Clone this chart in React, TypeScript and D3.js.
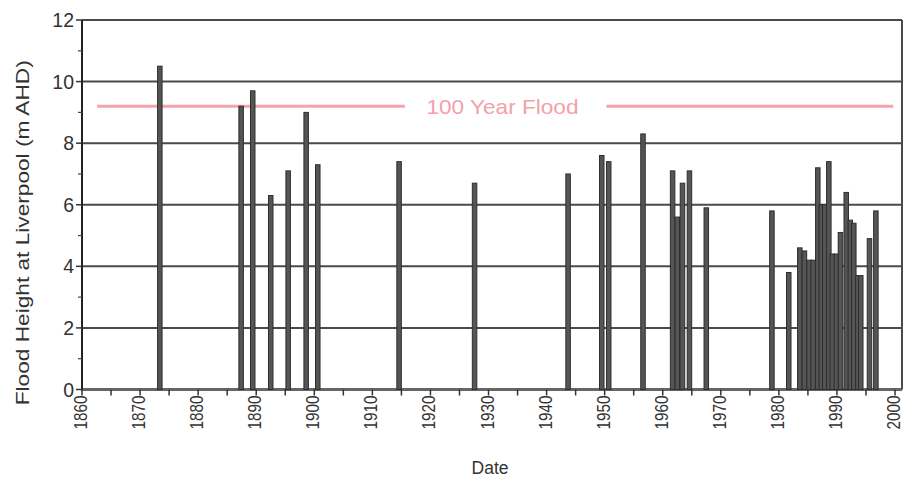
import React from 'react';
import * as d3 from 'd3';

// Flood events: decimal year and peak height (m AHD)
const floodYears = [
  1873.4, 1887.4, 1889.4, 1892.5, 1895.5, 1898.6, 1900.6, 1914.6, 1927.6, 1943.7,
  1949.5, 1950.7, 1956.6, 1961.7, 1962.5, 1963.4, 1964.6, 1967.5, 1978.8, 1981.7,
  1983.6, 1984.4, 1985.2, 1985.9, 1986.7, 1987.3, 1987.9, 1988.6, 1989.2, 1989.9,
  1990.6, 1991.6, 1992.3, 1992.9, 1993.6, 1994.1, 1995.6, 1996.7,
];
const floodHeights = [
  10.5, 9.2, 9.7, 6.3, 7.1, 9.0, 7.3, 7.4, 6.7, 7.0,
  7.6, 7.4, 8.3, 7.1, 5.6, 6.7, 7.1, 5.9, 5.8, 3.8,
  4.6, 4.5, 4.2, 4.2, 7.2, 6.0, 6.0, 7.4, 4.4, 4.4,
  5.1, 6.4, 5.5, 5.4, 3.7, 3.7, 4.9, 5.8,
];

const hundredYearFlood = 9.2;
const floodLineSegments = [[1862.6, 1915.6], [1950.3, 1999.7]];
const floodLabel = '100 Year Flood';

const yTicks = [0, 2, 4, 6, 8, 10, 12];
const yMinorTicks = [1, 3, 5, 7, 9, 11];
const xTicks = d3.range(1860, 2001, 5);
const xLabels = d3.range(1860, 2001, 10);

const W = 904;
const H = 479;
const font = '"Liberation Sans", Arial, sans-serif';

export default function App() {
  const x = d3.scaleLinear().domain([1860, 2001.2]).range([82, 902]);
  const y = d3.scaleLinear().domain([0, 12]).range([389.5, 20]);
  const barW = 4.5;
  const grid = '#4a4a4a';

  return (
    <svg width={W} height={H} style={{ position: 'absolute', left: 0, top: 0, display: 'block', background: '#fff' }}>
      {/* horizontal gridlines */}
      {yTicks.map(t => (
        <line key={'g' + t} x1={x(1860)} x2={x(2001.2)} y1={y(t)} y2={y(t)}
          stroke={t === 0 ? '#666' : grid} strokeWidth={t === 0 ? 3 : 2} />
      ))}
      {/* right frame */}
      <line x1={x(2001.2)} x2={x(2001.2)} y1={y(12)} y2={y(0)} stroke={grid} strokeWidth={2} />

      {/* 100 year flood line */}
      {floodLineSegments.map((s, i) => (
        <line key={'f' + i} x1={x(s[0])} x2={x(s[1])} y1={y(hundredYearFlood)} y2={y(hundredYearFlood)}
          stroke="#f4a4ac" strokeWidth={3} />
      ))}
      <text x={x(1932.4)} y={y(hundredYearFlood) + 8} textAnchor="middle" fontFamily={font}
        fontSize={21} fill="#f3a0aa" textLength={152} lengthAdjust="spacingAndGlyphs">{floodLabel}</text>

      {/* bars */}
      {floodYears.map((yr, i) => (
        <rect key={'b' + i} x={x(yr) - barW / 2} y={y(floodHeights[i])} width={barW}
          height={y(0) - y(floodHeights[i])} fill="#555" stroke="#2e2e2e" strokeWidth={1} />
      ))}

      {/* y axis */}
      <line x1={x(1860)} x2={x(1860)} y1={y(12)} y2={y(0) + 1} stroke="#222" strokeWidth={2} />
      {yTicks.map(t => (
        <g key={'y' + t}>
          <line x1={x(1860) - 6} x2={x(1860)} y1={y(t)} y2={y(t)} stroke="#333" strokeWidth={1.5} />
          <text x={x(1860) - 8} y={y(t) + 7} textAnchor="end" fontFamily={font} fontSize={19.5} fill="#333">{t}</text>
        </g>
      ))}
      {yMinorTicks.map(t => (
        <line key={'ym' + t} x1={x(1860) - 4} x2={x(1860)} y1={y(t)} y2={y(t)} stroke="#444" strokeWidth={1.2} />
      ))}

      {/* x axis */}
      {xTicks.map(t => (
        <line key={'x' + t} x1={x(t)} x2={x(t)} y1={y(0)} y2={y(0) + 6} stroke="#333" strokeWidth={1.5} />
      ))}
      {xLabels.map(t => (
        <text key={'xl' + t} transform={`translate(${x(t) + 5},${y(0) + 6}) rotate(-90)`}
          textAnchor="end" fontFamily={font} fontSize={17.5} fill="#333" textLength={34}
          lengthAdjust="spacingAndGlyphs">{t}</text>
      ))}

      {/* axis titles */}
      <text x={490} y={474} textAnchor="middle" fontFamily={font} fontSize={17.5} fill="#333">Date</text>
      <text transform={`translate(29,${(y(0) + 40) / 2 + 18}) rotate(-90)`} textAnchor="middle"
        fontFamily={font} fontSize={19} fill="#333" textLength={345} lengthAdjust="spacingAndGlyphs">
        Flood Height at Liverpool (m AHD)
      </text>
    </svg>
  );
}
